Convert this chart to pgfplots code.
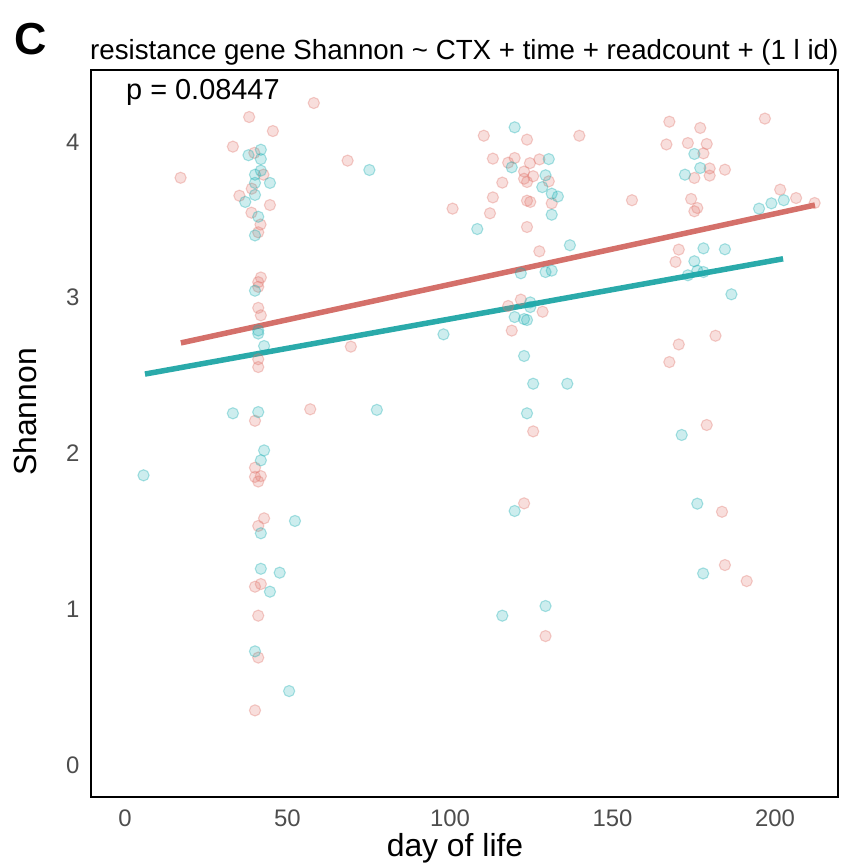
\documentclass[border=0pt]{standalone}
\usepackage{pgfplots}
\pgfplotsset{compat=1.18}
\usepackage{pgfplotstable}
\usepackage{fontspec}
\setmainfont{Liberation Sans}
\definecolor{cred}{HTML}{E0766D}
\definecolor{cteal}{HTML}{1AAEB2}
\definecolor{lred}{HTML}{D4706A}
\definecolor{lteal}{HTML}{2AAAAA}
\definecolor{tickgray}{HTML}{4D4D4D}

\pgfplotstableread{
x y
58.1 4.25
38.2 4.16
45.5 4.07
33.2 3.97
68.5 3.88
39.8 3.93
17.1 3.77
42.6 3.79
39.0 3.70
35.2 3.655
44.6 3.595
38.9 3.546
41.7 3.47
41.0 3.42
41.8 3.13
41.0 3.10
41.0 3.07
41.0 2.935
41.8 2.887
69.5 2.686
41.0 2.605
41.0 2.555
57.0 2.284
40.0 2.21
40.0 1.909
40.0 1.85
41.8 1.855
41.0 1.82
42.8 1.584
41.0 1.535
41.8 1.162
40.0 1.145
41.0 0.959
41.0 0.69
40.0 0.351
110.4 4.04
123.7 4.015
139.8 4.04
113.2 3.893
117.9 3.867
119.9 3.897
124.6 3.864
127.5 3.888
122.8 3.81
122.8 3.764
125.6 3.78
123.7 3.743
130.4 3.747
116.1 3.739
113.2 3.644
123.7 3.623
124.7 3.615
131.3 3.606
100.8 3.572
112.3 3.542
123.7 3.454
127.5 3.298
121.8 2.988
117.9 2.947
128.5 2.91
119.0 2.789
125.6 2.142
122.8 1.68
129.4 0.828
167.5 4.13
177.0 4.09
196.9 4.15
166.6 3.984
173.2 3.993
179.0 3.987
178.0 3.927
179.9 3.83
184.6 3.822
175.2 3.769
179.9 3.784
156.0 3.626
174.2 3.634
176.1 3.576
175.2 3.555
201.6 3.694
206.5 3.64
212.2 3.608
170.4 3.309
169.4 3.23
181.7 2.756
170.4 2.70
167.5 2.587
179.0 2.183
183.7 1.626
184.6 1.284
191.3 1.181
}\redpts

\pgfplotstableread{
x y
41.8 3.95
38.0 3.915
41.8 3.89
41.8 3.816
40.0 3.79
44.6 3.737
40.0 3.737
40.0 3.66
37.0 3.615
41.0 3.52
40.0 3.40
75.2 3.82
40.0 3.045
41.0 2.79
41.0 2.77
42.8 2.69
33.2 2.258
41.0 2.266
77.5 2.28
42.8 2.02
41.8 1.956
5.7 1.86
52.3 1.567
41.8 1.488
41.8 1.26
47.6 1.235
44.6 1.113
40.0 0.73
50.5 0.475
119.9 4.094
119.0 3.837
130.4 3.89
129.4 3.786
128.4 3.71
131.3 3.668
133.2 3.65
131.3 3.533
108.4 3.441
136.9 3.337
121.8 3.157
129.4 3.165
131.3 3.174
124.7 2.97
124.7 2.94
119.9 2.876
122.8 2.863
123.7 2.857
98.0 2.765
122.8 2.626
125.6 2.448
136.1 2.448
123.7 2.258
119.9 1.631
129.4 1.021
116.1 0.959
175.2 3.923
177.0 3.833
172.3 3.79
195.1 3.572
198.9 3.606
202.7 3.626
178.0 3.317
184.6 3.311
175.2 3.234
173.2 3.144
176.1 3.174
178.0 3.165
186.6 3.022
171.3 2.119
176.1 1.678
177.9 1.23
}\tealpts

\begin{document}
\begin{tikzpicture}[x=1bp,y=1bp]
\useasboundingbox (0,0) rectangle (849,866);
\begin{axis}[
  at={(91bp,69bp)}, anchor=south west,
  scale only axis, width=747bp, height=727bp,
  xmin=-10.46, xmax=219.4, ymin=-0.205, ymax=4.462,
  axis line style={black, line width=1.6bp},
  xtick={0,50,100,150,200}, ytick={0,1,2,3,4},
  major tick length=0pt,
  /pgf/number format/assume math mode=true,
  ticklabel style={font=\fontsize{24}{28}\selectfont, text=tickgray},
  xticklabel style={yshift=-9bp},
  yticklabel style={xshift=-8bp},
  clip=false,
]
\addplot[only marks, mark=*, mark size=5.6bp,
  mark options={draw=cred, fill=cred, draw opacity=0.35, fill opacity=0.24, line width=1.1bp}]
  table[x=x,y=y]{\redpts};
\addplot[only marks, mark=*, mark size=5.6bp,
  mark options={draw=cteal, fill=cteal, draw opacity=0.35, fill opacity=0.22, line width=1.1bp}]
  table[x=x,y=y]{\tealpts};
\addplot[lred, line width=5.5bp] coordinates {(17.2,2.71) (212.3,3.595)};
\addplot[lteal, line width=5.5bp] coordinates {(6.15,2.51) (202.5,3.25)};
\end{axis}
\node[anchor=base west, inner sep=0pt, font=\fontsize{27.8}{32}\selectfont] at (90,806) {resistance gene Shannon \textasciitilde{} CTX + time + readcount + (1 l id)};
\node[anchor=base west, inner sep=0pt, font=\fontsize{45}{50}\bfseries\selectfont] at (14,811) {C};
\node[anchor=base west, inner sep=0pt, font=\fontsize{29}{34}\selectfont] at (126,766) {p = 0.08447};
\node[font=\fontsize{32}{36}\selectfont] at (455,18) {day of life};
\node[rotate=90, font=\fontsize{32}{36}\selectfont] at (25,454) {Shannon};
\end{tikzpicture}
\end{document}
